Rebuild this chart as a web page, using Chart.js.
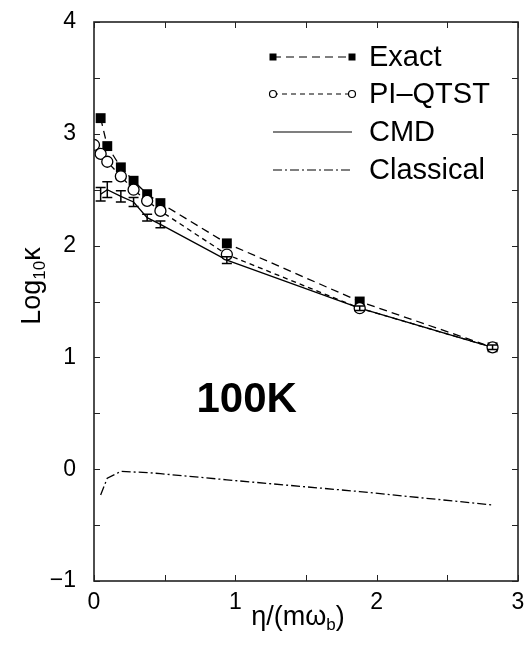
<!DOCTYPE html>
<html>
<head>
<meta charset="utf-8">
<script src="https://cdn.jsdelivr.net/npm/chart.js@4"></script>
<style>
html,body{margin:0;padding:0;background:#fff;}
#wrap{width:525px;height:646px;position:relative;}
</style>
</head>
<body>
<div id="wrap"><canvas id="c" width="525" height="646"></canvas></div>
<script>
// ---- data ----
const etaExact = [0.047, 0.094, 0.19, 0.28, 0.376, 0.47, 0.94, 1.88, 2.82];
const logExact = [3.14, 2.89, 2.70, 2.58, 2.46, 2.38, 2.02, 1.50, 1.09];

const etaPI = [0.0, 0.047, 0.094, 0.19, 0.28, 0.376, 0.47, 0.94, 1.88, 2.82];
const logPI = [2.90, 2.82, 2.75, 2.62, 2.50, 2.40, 2.31, 1.92, 1.44, 1.09];

const etaCMD = [0.047, 0.094, 0.19, 0.28, 0.376, 0.47, 0.94, 1.88, 2.82];
const logCMD = [2.46, 2.50, 2.44, 2.39, 2.25, 2.19, 1.87, 1.44, 1.09];
const errCMD = [0.06, 0.07, 0.05, 0.04, 0.03, 0.03, 0.03, 0.02, 0.02];

const etaClassical = [0.047, 0.094, 0.19, 0.28, 0.376, 0.47, 0.94, 1.88, 2.82];
const logClassical = [-0.23, -0.08, -0.02, -0.025, -0.03, -0.04, -0.095, -0.20, -0.32];

const xTicks = [0, 1, 2, 3];
const yTicks = [-1, 0, 1, 2, 3, 4];
const seriesNames = ['Exact', 'PI\u2013QTST', 'CMD', 'Classical'];
const annotationText = '100K';

const FONT = '"Liberation Sans", Arial, Helvetica, sans-serif';
const pts = (xs, ys) => xs.map((x, i) => ({x: x, y: ys[i]}));

const dashes = [[8,5],[5,4],[],[9,3,2,3]];

const datasets = [
  {label: seriesNames[0], order: 2, data: pts(etaExact, logExact), borderColor:'#000', backgroundColor:'#000',
   borderWidth:1.3, borderDash:dashes[0], pointStyle:'rect', pointRadius:7, pointBorderWidth:0, showLine:true},
  {label: seriesNames[1], order: 1, data: pts(etaPI, logPI), borderColor:'#000', backgroundColor:'#fff',
   borderWidth:1.3, borderDash:dashes[1], pointStyle:'circle', pointRadius:5.5, pointBorderWidth:1.3, pointBorderColor:'#000', showLine:true},
  {label: seriesNames[2], order: 3, data: pts(etaCMD, logCMD), borderColor:'#000', backgroundColor:'#000',
   borderWidth:1.3, borderDash:dashes[2], pointRadius:0, showLine:true},
  {label: seriesNames[3], order: 4, data: pts(etaClassical, logClassical), borderColor:'#000', backgroundColor:'#000',
   borderWidth:1.3, borderDash:dashes[3], pointRadius:0, showLine:true}
];

// error bars + frame + inside ticks + legend + titles
const extras = {
  id: 'extras',
  afterDatasetsDraw(chart) {
    const ctx = chart.ctx, xs = chart.scales.x, ys = chart.scales.y;
    const ca = chart.chartArea;
    ctx.save();
    // error bars on CMD
    ctx.strokeStyle = '#000'; ctx.lineWidth = 1.5; ctx.setLineDash([]);
    etaCMD.forEach((x, i) => {
      const px = xs.getPixelForValue(x);
      const y1 = ys.getPixelForValue(logCMD[i] + errCMD[i]);
      const y2 = ys.getPixelForValue(logCMD[i] - errCMD[i]);
      ctx.beginPath();
      ctx.moveTo(px, y1); ctx.lineTo(px, y2);
      ctx.moveTo(px - 5, y1); ctx.lineTo(px + 5, y1);
      ctx.moveTo(px - 5, y2); ctx.lineTo(px + 5, y2);
      ctx.stroke();
    });
    // frame
    ctx.lineWidth = 1.6; ctx.strokeStyle = '#222';
    ctx.strokeRect(ca.left, ca.top, ca.right - ca.left, ca.bottom - ca.top);
    // inside ticks every 0.5
    ctx.lineWidth = 1;
    ctx.beginPath();
    for (let v = 0; v <= 3.0001; v += 0.5) {
      const px = Math.round(xs.getPixelForValue(v)) + 0.5;
      ctx.moveTo(px, ca.bottom); ctx.lineTo(px, ca.bottom - 6);
      ctx.moveTo(px, ca.top); ctx.lineTo(px, ca.top + 6);
    }
    for (let v = -1; v <= 4.0001; v += 0.5) {
      const py = Math.round(ys.getPixelForValue(v)) + 0.5;
      ctx.moveTo(ca.left, py); ctx.lineTo(ca.left + 6, py);
      ctx.moveTo(ca.right, py); ctx.lineTo(ca.right - 6, py);
    }
    ctx.stroke();

    // legend
    const lx1 = 273, lx2 = 352, tx = 369, rows = [57, 94, 132, 170];
    ctx.fillStyle = '#000'; ctx.strokeStyle = '#000';
    rows.forEach((ry, i) => {
      ctx.lineWidth = 1.2;
      ctx.setLineDash(dashes[i]);
      ctx.beginPath(); ctx.moveTo(lx1, ry); ctx.lineTo(lx2, ry); ctx.stroke();
      ctx.setLineDash([]);
      if (i === 0) {
        ctx.fillRect(lx1 - 3.5, ry - 3.5, 7, 7);
        ctx.fillRect(lx2 - 3.5, ry - 3.5, 7, 7);
      } else if (i === 1) {
        [lx1, lx2].forEach(cx => {
          ctx.beginPath(); ctx.arc(cx, ry, 3.5, 0, Math.PI * 2);
          ctx.fillStyle = '#fff'; ctx.fill(); ctx.lineWidth = 1.2; ctx.stroke();
        });
        ctx.fillStyle = '#000';
      }
      ctx.font = '29px ' + FONT;
      ctx.textBaseline = 'middle'; ctx.textAlign = 'left';
      ctx.fillText(seriesNames[i], tx, ry + 1);
    });

    // 100K annotation
    ctx.font = 'bold 42px ' + FONT;
    ctx.textAlign = 'center'; ctx.textBaseline = 'alphabetic';
    ctx.fillText(annotationText, xs.getPixelForValue(1.08), ys.getPixelForValue(0.51));

    // x title: η/(mω_b)
    ctx.textAlign = 'left';
    const main = 27, sub = 17;
    ctx.font = main + 'px ' + FONT;
    const p1 = '\u03B7/(m\u03C9', p3 = ')';
    ctx.font = sub + 'px ' + FONT;
    const w2 = ctx.measureText('b').width;
    ctx.font = main + 'px ' + FONT;
    const w1 = ctx.measureText(p1).width, w3 = ctx.measureText(p3).width;
    let sx = 298 - (w1 + w2 + w3) / 2, by = 625;
    ctx.fillText(p1, sx, by);
    ctx.font = sub + 'px ' + FONT;
    ctx.fillText('b', sx + w1, by + 5);
    ctx.font = main + 'px ' + FONT;
    ctx.fillText(p3, sx + w1 + w2, by);

    // y title: Log10κ
    ctx.translate(40, 286);
    ctx.rotate(-Math.PI / 2);
    const q1 = 'Log', q2 = '10', q3 = '\u03BA';
    ctx.font = main + 'px ' + FONT;
    const v1 = ctx.measureText(q1).width, v3 = ctx.measureText(q3).width;
    ctx.font = sub + 'px ' + FONT;
    const v2 = ctx.measureText(q2).width;
    let qx = -(v1 + v2 + v3) / 2;
    ctx.font = main + 'px ' + FONT;
    ctx.fillText(q1, qx, 0);
    ctx.font = sub + 'px ' + FONT;
    ctx.fillText(q2, qx + v1, 5);
    ctx.font = main + 'px ' + FONT;
    ctx.fillText(q3, qx + v1 + v2, 0);
    ctx.restore();
  }
};

new Chart(document.getElementById('c'), {
  type: 'scatter',
  data: {datasets},
  options: {
    responsive: false,
    animation: false,
    events: [],
    layout: {padding: {top: 22, right: 6, left: 0, bottom: 0}},
    plugins: {legend: {display: false}, tooltip: {enabled: false}},
    scales: {
      x: {
        type: 'linear', min: 0, max: 3,
        afterBuildTicks: s => { s.ticks = xTicks.map(v => ({value: v})); },
        afterFit: s => { s.height = 65; s.paddingLeft = 0; s.paddingRight = 0; },
        grid: {display: false, drawTicks: false},
        border: {display: false},
        ticks: {padding: 8, color: '#000', font: {family: FONT, size: 23},
                callback: v => String(v).replace('-', '\u2212'), maxRotation: 0}
      },
      y: {
        type: 'linear', min: -1, max: 4,
        afterBuildTicks: s => { s.ticks = yTicks.map(v => ({value: v})); },
        afterFit: s => { s.width = 94; s.paddingTop = 0; s.paddingBottom = 0; },
        grid: {display: false, drawTicks: false},
        border: {display: false},
        ticks: {padding: 18, color: '#000', font: {family: FONT, size: 23},
                callback: v => String(v).replace('-', '\u2212')}
      }
    }
  },
  plugins: [extras]
});
</script>
</body>
</html>
